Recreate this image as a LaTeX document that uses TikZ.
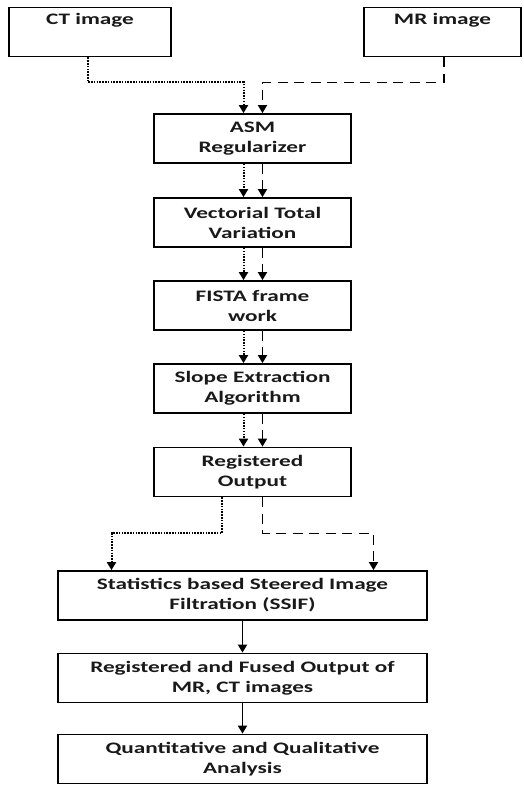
\documentclass[tikz,border=0pt]{standalone}
\usepackage{fontspec}
\setmainfont{Carlito}[FakeStretch=1.45]
\usetikzlibrary{arrows.meta, positioning}

\begin{document}
\begin{tikzpicture}[x=1pt, y=-1pt, line width=1.8pt,
    stage/.style={draw, minimum height=49pt, inner sep=0pt, align=center,
      font=\fontsize{16}{20}\selectfont\bfseries, text=black!90},
    srcbox/.style={stage, minimum width=162pt},
    midbox/.style={stage, minimum width=197pt},
    widebox/.style={stage, minimum width=369pt},
    tip/.style={-{Triangle[width=9pt,length=8pt]}},
    ctline/.style={tip, line width=2pt, dash pattern=on 1.5pt off 1.3pt},
    mrline/.style={tip, dash pattern=on 10pt off 6.5pt},
    solidline/.style={tip}]
  \useasboundingbox (0,0) rectangle (523,785);
  \node[srcbox] (ct) at (90,32) {CT image\\\strut};
  \node[srcbox, minimum width=157pt] (mr) at (442.5,32) {MR image\\\strut};
  \node[midbox] (asm) at (252.5,138.5) {ASM\\Regularizer};
  \node[midbox] (vtv) at (252.5,222.5) {Vectorial Total\\Variation};
  \node[midbox] (fista) at (252.5,305.5) {FISTA frame\\work};
  \node[midbox] (slope) at (252.5,388.5) {Slope Extraction\\Algorithm};
  \node[midbox] (reg) at (252.5,472) {Registered\\Output};
  \node[widebox] (ssif) at (242.5,595.5) {Statistics based Steered Image\\Filtration (SSIF)};
  \node[widebox] (fused) at (242.5,678) {Registered and Fused Output of\\MR, CT images};
  \node[widebox] (quant) at (242.5,759) {Quantitative and Qualitative\\Analysis};

  \draw[ctline] ([xshift=-2pt]ct.south) -- ++(0,25) -| ([xshift=-9pt]asm.north);
  \draw[mrline] ([xshift=1.5pt]mr.south) -- ++(0,25) -| ([xshift=10pt]asm.north);
  \foreach \a/\b in {asm/vtv, vtv/fista, fista/slope, slope/reg} {
    \draw[ctline] ([xshift=-9pt]\a.south) -- ([xshift=-9pt]\b.north);
    \draw[mrline] ([xshift=10pt]\a.south) -- ([xshift=10pt]\b.north);
  }
  \draw[ctline] ([xshift=-31pt]reg.south) -- ++(0,36) -| ([xshift=-131pt]ssif.north);
  \draw[mrline] ([xshift=10pt]reg.south) -- ++(0,36) -| ([xshift=131pt]ssif.north);
  \draw[solidline] (ssif) -- (fused);
  \draw[solidline] (fused) -- (quant);
\end{tikzpicture}
\end{document}
